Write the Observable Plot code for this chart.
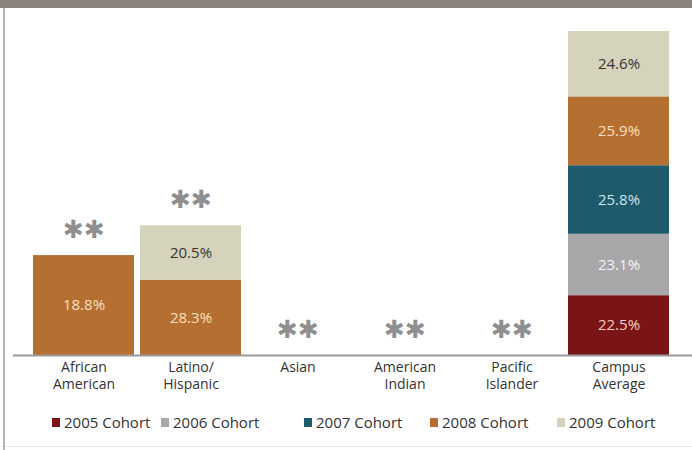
<!DOCTYPE html>
<html>
<head>
<meta charset="utf-8">
<script src="https://cdn.jsdelivr.net/npm/d3@7"></script>
<script src="https://cdn.jsdelivr.net/npm/@observablehq/plot@0.6"></script>
<style>
  html, body { margin: 0; padding: 0; background: #fff; }
  #wrap { position: relative; width: 692px; height: 442px; border-top: 8px solid #8b827b; background: #fff; font-family: "Open Sans", sans-serif; }
  #lline { position: absolute; left: 3px; top: 0; width: 2px; height: 442px; background: #b5b5b5; }
  #bline { position: absolute; left: 5px; right: 0; top: 438px; height: 1px; background: #e6e6e6; }
  #chart { position: absolute; left: 0; top: 0; }
  .leg { position: absolute; top: 404px; font-size: 15px; color: #333; white-space: nowrap; line-height: 20px; }
  .leg i { display: inline-block; width: 8px; height: 9px; margin-right: 4px; vertical-align: 1px; }
</style>
</head>
<body>
<div id="wrap">
  <div id="lline"></div>
  <div id="bline"></div>
  <div id="chart"></div>
  <div id="legend"></div>
</div>
<script>
// ---- data ----
const categories = ["African American", "Latino/Hispanic", "Asian", "American Indian", "Pacific Islander", "Campus Average"];
const tickLabels = ["African\nAmerican", "Latino/\nHispanic", "Asian", "American\nIndian", "Pacific\nIslander", "Campus\nAverage"];
const cohorts = ["2005 Cohort", "2006 Cohort", "2007 Cohort", "2008 Cohort", "2009 Cohort"];
const colors = ["#7a1517", "#a7a7aa", "#1d5a6c", "#b46f31", "#d6d3bd"];
const labelColors = ["#f2cfc0", "#f4f4f4", "#cfe5ee", "#fbe0c2", "#333333"];
// bar lengths as drawn in the picture (percent)
const c2005 = [0, 0, 0, 0, 0, 22.5];
const c2006 = [0, 0, 0, 0, 0, 23.1];
const c2007 = [0, 0, 0, 0, 0, 25.8];
const c2008 = [37.6, 28.3, 0, 0, 0, 25.9];
const c2009 = [0, 20.5, 0, 0, 0, 24.6];
// printed labels
const l2005 = ["", "", "", "", "", "22.5%"];
const l2006 = ["", "", "", "", "", "23.1%"];
const l2007 = ["", "", "", "", "", "25.8%"];
const l2008 = ["18.8%", "28.3%", "", "", "", "25.9%"];
const l2009 = ["", "20.5%", "", "", "", "24.6%"];
const starred = [true, true, true, true, true, false];

const series = [c2005, c2006, c2007, c2008, c2009];
const labels = [l2005, l2006, l2007, l2008, l2009];

const rows = [];
series.forEach((vals, s) => vals.forEach((v, i) => {
  if (v > 0) {
    const base = d3.sum(series.slice(0, s), p => p[i]);
    rows.push({category: categories[i], cohort: cohorts[s], value: v, label: labels[s][i], s, mid: base + v / 2});
  }
}));
const totals = categories.map((c, i) => d3.sum(series, vals => vals[i]));
const stars = categories.map((c, i) => ({category: c, top: totals[i], show: starred[i]})).filter(d => d.show);

const labelMarks = cohorts.map((c, s) =>
  Plot.text(rows.filter(d => d.s === s), {
    x: "category", y: "mid", text: "label",
    fill: labelColors[s], fontSize: 15
  })
);

const chart = Plot.plot({
  width: 692,
  height: 392,
  marginTop: 23,
  marginBottom: 45,
  marginLeft: 13,
  marginRight: 0,
  style: {fontFamily: "Open Sans", color: "#333", background: "transparent"},
  x: {domain: categories, range: [31.5, 671], paddingInner: 0.06, paddingOuter: 0, label: null},
  y: {domain: [0, d3.max(totals)], axis: null, nice: false},
  color: {domain: cohorts, range: colors},
  marks: [
    Plot.barY(rows, {x: "category", y: "value", fill: "cohort", z: "cohort"}),
    ...labelMarks,
    Plot.text(stars, {x: "category", y: "top", text: () => "✱✱", dy: -26, fill: "#8f8f8f", fontSize: 25, fontFamily: "DejaVu Sans", lineAnchor: "middle"}),
    Plot.ruleY([0], {stroke: "#9a9a9a", strokeWidth: 2}),
    Plot.axisX({tickSize: 0, tickPadding: 5, fontSize: 14, tickFormat: (d) => tickLabels[categories.indexOf(d)], lineHeight: 1.2, fill: "#333"})
  ]
});
document.getElementById("chart").appendChild(chart);

// legend
const legendX = [52, 161, 304, 430, 557];
const legend = document.getElementById("legend");
cohorts.forEach((c, s) => {
  const el = document.createElement("div");
  el.className = "leg";
  el.style.left = legendX[s] + "px";
  el.innerHTML = `<i style="background:${colors[s]}"></i>${c}`;
  legend.appendChild(el);
});
</script>
</body>
</html>
